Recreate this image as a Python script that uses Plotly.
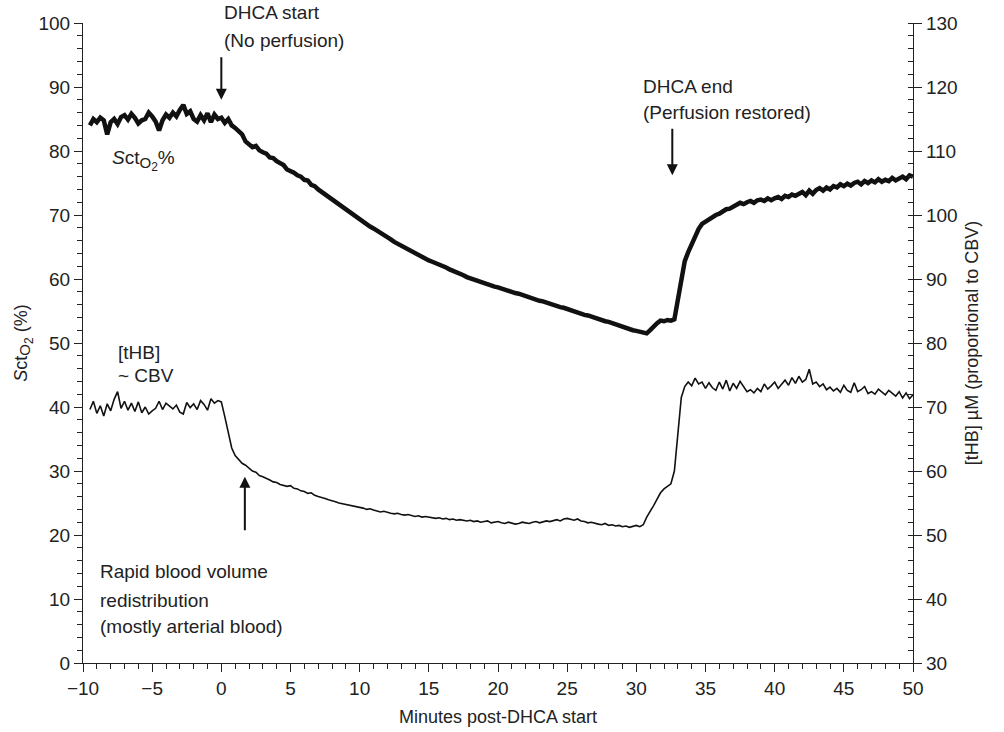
import numpy as np
import plotly.graph_objects as go

# sample times (minutes post-DHCA start), 0.25-min spacing
minutes = np.round(np.arange(-9.5, 50.0001, 0.25), 2)

# SctO2 (%)
scto2_pre = [84.0, 85.0, 84.5, 85.2, 84.8, 82.6, 84.5, 85.0, 84.2, 85.3, 85.6, 84.9, 85.8, 85.2,
             84.3, 84.8, 85.0, 86.0, 85.4, 84.6, 83.2, 84.8, 85.7, 85.2, 86.0, 85.4, 86.4, 87.2,
             85.8, 86.2, 85.0, 84.6, 85.6, 84.8, 85.9, 84.5, 85.7, 85.0]
scto2_0_10 = [85.2, 84.4, 85.0, 84.0, 83.6, 83.2, 82.6, 81.5, 81.0, 80.6, 80.8, 80.1, 79.8, 79.6,
              79.0, 78.9, 78.4, 78.0, 77.8, 77.1, 76.9, 76.6, 76.2, 76.0, 75.5, 75.4, 74.7, 74.5,
              74.0, 73.6, 73.3, 72.8, 72.4, 72.2, 71.6, 71.3, 70.8, 70.5, 70.1, 69.7]
scto2_10_20 = [69.3, 69.0, 68.6, 68.2, 67.9, 67.6, 67.2, 66.9, 66.5, 66.2, 65.8, 65.5, 65.2, 64.9,
               64.5, 64.3, 64.0, 63.7, 63.5, 63.2, 62.9, 62.7, 62.5, 62.2, 62.0, 61.8, 61.5, 61.3,
               61.0, 60.8, 60.6, 60.3, 60.1, 59.9, 59.8, 59.5, 59.3, 59.2, 59.0, 58.8]
scto2_20_30 = [58.7, 58.5, 58.3, 58.2, 58.0, 57.8, 57.7, 57.5, 57.3, 57.2, 57.0, 56.8, 56.6, 56.5,
               56.3, 56.1, 56.0, 55.8, 55.6, 55.5, 55.3, 55.1, 55.0, 54.8, 54.6, 54.4, 54.3, 54.1,
               54.0, 53.8, 53.6, 53.4, 53.3, 53.1, 52.9, 52.7, 52.5, 52.4, 52.2, 52.0]
scto2_30_40 = [51.9, 51.8, 51.6, 51.5, 52.0, 52.6, 53.1, 53.5, 53.4, 53.6, 53.5, 53.7, 57.0, 60.5,
               62.8, 64.2, 65.5, 66.6, 67.8, 68.6, 69.0, 69.4, 69.8, 70.0, 70.2, 70.6, 70.9, 71.0,
               71.4, 71.6, 71.9, 71.7, 72.0, 72.2, 71.9, 72.3, 72.4, 72.2, 72.6, 72.3]
scto2_40_50 = [72.6, 72.8, 72.5, 73.0, 72.8, 73.2, 73.0, 73.4, 73.6, 73.1, 73.8, 73.3, 73.9, 74.2,
               73.8, 74.3, 74.0, 74.5, 74.3, 74.8, 74.5, 74.9, 74.6, 75.0, 75.2, 74.8, 75.3, 75.0,
               75.4, 75.1, 75.6, 75.2, 75.5, 75.3, 75.8, 75.4, 75.7, 76.0, 75.6, 76.2, 76.0]

# [tHB] (uM) (right axis)
thb_pre = [69.6, 70.9, 69.0, 70.2, 68.6, 70.5, 69.4, 71.2, 72.4, 69.8, 70.9, 69.5, 70.6, 69.3,
           70.8, 69.1, 70.0, 68.9, 69.4, 69.8, 70.9, 69.6, 70.6, 70.2, 69.7, 70.3, 69.2, 68.9,
           70.7, 69.9, 70.5, 69.6, 71.0, 70.4, 69.5, 71.3, 70.6, 71.0]
thb_0_10 = [70.8, 68.5, 65.8, 63.6, 62.4, 61.8, 61.2, 60.9, 60.4, 60.0, 59.8, 59.3, 59.1, 58.9,
            58.6, 58.3, 58.2, 57.9, 57.8, 57.6, 57.7, 57.3, 57.2, 56.9, 56.8, 56.5, 56.6, 56.2,
            56.0, 55.9, 55.7, 55.5, 55.4, 55.2, 55.0, 54.9, 54.8, 54.6, 54.5, 54.4]
thb_10_20 = [54.3, 54.2, 54.0, 54.1, 53.9, 53.8, 53.6, 53.7, 53.5, 53.4, 53.3, 53.4, 53.2, 53.1,
             53.2, 53.0, 52.9, 53.0, 52.8, 52.9, 52.8, 52.7, 52.6, 52.7, 52.5, 52.6, 52.4, 52.5,
             52.3, 52.4, 52.3, 52.2, 52.3, 52.1, 52.2, 52.0, 52.1, 52.2, 51.9, 52.0]
thb_20_30 = [52.1, 51.9, 51.8, 52.0, 51.9, 51.7, 51.8, 52.0, 51.9, 51.8, 52.0, 52.1, 51.9, 52.0,
             52.2, 52.1, 52.3, 52.4, 52.2, 52.5, 52.6, 52.4, 52.3, 52.5, 52.2, 52.1, 51.9, 52.0,
             51.8, 51.7, 51.6, 51.8, 51.5, 51.6, 51.4, 51.5, 51.3, 51.4, 51.2, 51.3]
thb_30_40 = [51.5, 51.3, 51.6, 52.8, 53.6, 54.6, 55.6, 56.6, 57.2, 57.6, 58.0, 60.0, 66.0, 71.5,
             73.2, 73.9, 73.3, 74.5, 73.6, 73.9, 72.9, 73.8, 73.0, 72.6, 73.9, 72.8, 74.2, 72.5,
             73.7, 72.9, 74.0, 73.1, 72.4, 72.7, 72.2, 72.9, 72.4, 73.6, 72.8, 73.3]
thb_40_50 = [73.9, 72.9, 73.5, 74.2, 73.4, 74.6, 73.7, 74.8, 73.9, 74.3, 75.9, 73.6, 73.9, 73.2,
             73.6, 72.7, 73.1, 72.5, 72.9, 72.3, 73.4, 72.6, 72.3, 73.8, 72.4, 72.7, 73.2, 72.1,
             72.4, 72.0, 72.8, 72.3, 71.9, 72.6, 72.1, 71.7, 72.4, 71.4, 72.2, 71.3, 71.9]

scto2 = scto2_pre + scto2_0_10 + scto2_10_20 + scto2_20_30 + scto2_30_40 + scto2_40_50
thb = thb_pre + thb_0_10 + thb_10_20 + thb_20_30 + thb_30_40 + thb_40_50

x_ticks = [-10, -5, 0, 5, 10, 15, 20, 25, 30, 35, 40, 45, 50]
x_ticktext = ["\u221210", "\u22125", "0", "5", "10", "15", "20", "25", "30", "35", "40", "45", "50"]

FONT = "Liberation Sans, Arial, sans-serif"
SUB_O2 = ("<sub><span style='font-size:15px'>O</span>"
          "<sub><span style='font-size:12px'>2</span></sub></sub>")

fig = go.Figure()
fig.add_trace(go.Scatter(x=minutes, y=scto2, mode="lines",
                         line=dict(color="#111", width=4.5), showlegend=False))
fig.add_trace(go.Scatter(x=minutes, y=thb, mode="lines", yaxis="y2",
                         line=dict(color="#111", width=1.6), showlegend=False))

ann_font = dict(family=FONT, size=19, color="#222")
texts = [
    ("DHCA start", 0.1675, 1.017),
    ("(No perfusion)", 0.1675, 0.9734),
    ("DHCA end", 0.672, 0.90),
    ("(Perfusion restored)", 0.672, 0.8609),
    ("<i>S</i>ct" + SUB_O2 + "%", 0.0325, 0.7859),
    ("[tHB]", 0.0398, 0.4859),
    ("~ CBV", 0.0398, 0.4485),
    ("Rapid blood volume", 0.018, 0.1422),
    ("redistribution", 0.018, 0.0984),
    ("(mostly arterial blood)", 0.018, 0.0563),
]
for t, xx, yy in texts:
    fig.add_annotation(x=xx, y=yy, text=t, showarrow=False, xanchor="left", yanchor="middle",
                       font=ann_font, xref="paper", yref="paper")

arrows = [(0.0, 88.0, -44), (32.6, 76.2, -48), (1.7, 29.1, 55)]
for xx, yy, ay in arrows:
    fig.add_annotation(x=xx, y=yy, ax=0, ay=ay, text="", showarrow=True, arrowhead=2,
                       arrowsize=1.1, arrowwidth=2, arrowcolor="#111", xref="x", yref="y")

fig.update_layout(
    width=1004, height=732, margin=dict(l=83, r=91, t=23, b=69, autoexpand=False),
    paper_bgcolor="white", plot_bgcolor="white",
    font=dict(family=FONT, size=19, color="#222"),
    xaxis=dict(range=[-10, 50], tickvals=x_ticks, ticktext=x_ticktext, ticks="outside",
               ticklen=8, tickwidth=1.2, tickcolor="#222", showline=True, linecolor="#222",
               linewidth=1.2, showgrid=False, zeroline=False, automargin=False,
               minor=dict(dtick=1, ticks="outside", ticklen=5, tickcolor="#222", showgrid=False),
               title=dict(text="Minutes post-DHCA start", font=dict(size=18), standoff=12)),
    yaxis=dict(range=[0, 100], dtick=10, ticks="outside", ticklen=8, tickwidth=1.2,
               tickcolor="#222", showline=True, linecolor="#222", linewidth=1.2,
               showgrid=False, zeroline=False, automargin=False,
               minor=dict(dtick=2, ticks="outside", ticklen=5, tickcolor="#222", showgrid=False),
               title=dict(text="<i>S</i>ct" + SUB_O2 + " (%)", font=dict(size=18), standoff=6)),
    yaxis2=dict(range=[30, 130], dtick=10, overlaying="y", side="right", ticks="outside",
                ticklen=8, tickwidth=1.2, tickcolor="#222", showline=True, linecolor="#222",
                linewidth=1.2, showgrid=False, zeroline=False, automargin=False,
                minor=dict(dtick=2, ticks="inside", ticklen=5, tickcolor="#222", showgrid=False),
                title=dict(text="[tHB] \u00b5M (proportional to CBV)", font=dict(size=18), standoff=8)),
)

fig.write_html("out.html")
